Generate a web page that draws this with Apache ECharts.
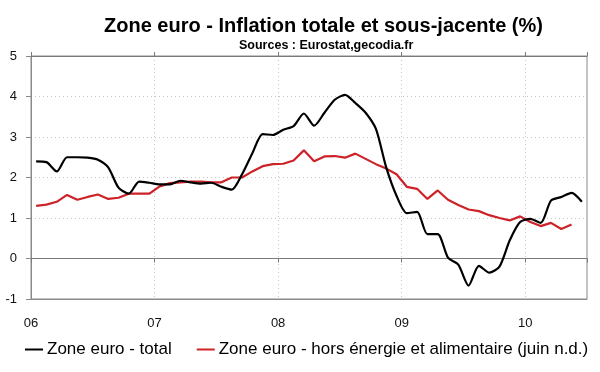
<!DOCTYPE html>
<html>
<head>
<meta charset="utf-8">
<script src="https://cdn.jsdelivr.net/npm/echarts@6/dist/echarts.min.js"></script>
<style>
html,body{margin:0;padding:0;background:#fff;}
#chart{width:600px;height:372px;}
</style>
</head>
<body>
<div id="chart"></div>
<script>
// Monthly data, Jan 2006 – Jun 2010
const yearLabels = ['06', '07', '08', '09', '10'];
const seriesNames = ['Zone euro - total', 'Zone euro - hors énergie et alimentaire (juin n.d.)'];
const total = [
  2.40, 2.38, 2.15, 2.50, 2.50, 2.49, 2.44, 2.25, 1.75, 1.60, 1.90, 1.87,
  1.83, 1.83, 1.92, 1.88, 1.85, 1.87, 1.77, 1.70, 2.08, 2.60, 3.07, 3.05,
  3.18, 3.27, 3.58, 3.28, 3.60, 3.92, 4.04, 3.84, 3.60, 3.20, 2.25, 1.55,
  1.12, 1.15, 0.60, 0.60, 0.02, -0.15, -0.67, -0.18, -0.35, -0.20, 0.45, 0.90,
  0.98, 0.88, 1.43, 1.52, 1.62, 1.40
];
const core = [
  1.30, 1.33, 1.40, 1.57, 1.45, 1.52, 1.58, 1.47, 1.50, 1.60, 1.60, 1.60,
  1.78, 1.86, 1.88, 1.90, 1.90, 1.88, 1.88, 2.00, 2.00, 2.15, 2.28, 2.33,
  2.34, 2.42, 2.67, 2.40, 2.52, 2.53, 2.49, 2.59, 2.46, 2.33, 2.22, 2.08,
  1.77, 1.72, 1.47, 1.68, 1.45, 1.32, 1.21, 1.17, 1.07, 1.00, 0.94, 1.04,
  0.90, 0.80, 0.88, 0.73, 0.84
];

const FONT = '"Liberation Sans", Arial, sans-serif';
// each month sits in the middle of its own category band
const toPts = arr => arr.map((v, i) => [i + 0.5, v]);
const nMonths = total.length;

const chart = echarts.init(document.getElementById('chart'), null, {renderer: 'canvas'});
const zeroAxisBase = {
  type: 'value', min: 0, max: nMonths, interval: 12, gridIndex: 0,
  axisLine: {show: true, onZero: true, lineStyle: {color: '#7a7a7a', width: 1}},
  axisTick: {show: true, length: 4, lineStyle: {color: '#7a7a7a'}},
  axisLabel: {show: false},
  splitLine: {show: false}
};
const dotted = {color: '#c4c4c4', type: [1, 3], width: 1};
chart.setOption({
  animation: false,
  backgroundColor: '#fff',
  title: [
    {text: 'Zone euro - Inflation totale et sous-jacente (%)', left: 99, top: 11,
     textStyle: {fontFamily: FONT, fontSize: 20, fontWeight: 'bold', color: '#000'}},
    {text: 'Sources : Eurostat,gecodia.fr', left: 234, top: 34,
     textStyle: {fontFamily: FONT, fontSize: 12.5, fontWeight: 'bold', color: '#000'}}
  ],
  grid: {left: 31, right: 13, top: 56, bottom: 73, show: true, borderColor: '#8a8a8a', borderWidth: 1, containLabel: false},
  legend: {
    left: 20, top: 336, itemWidth: 18, itemHeight: 2, itemGap: 25, icon: 'rect',
    textStyle: {fontFamily: FONT, fontSize: 17, color: '#000', padding: [0, 0, 0, -1]},
    data: seriesNames
  },
  xAxis: [
    {
      type: 'value', min: 0, max: nMonths, interval: 12, position: 'bottom', gridIndex: 0,
      axisLine: {show: true, onZero: false, lineStyle: {color: '#8a8a8a'}},
      axisTick: {show: false},
      axisLabel: {
        show: true, margin: 18, showMaxLabel: false,
        fontFamily: FONT, fontSize: 13, color: '#111',
        formatter: v => yearLabels[Math.round(v / 12)] || ''
      },
      splitLine: {show: true, lineStyle: dotted}
    },
    Object.assign({position: 'bottom'}, zeroAxisBase),
    Object.assign({position: 'top'}, zeroAxisBase)
  ],
  yAxis: {
    type: 'value', min: -1, max: 5, interval: 1,
    axisLine: {show: true, onZero: false, lineStyle: {color: '#8a8a8a'}},
    axisTick: {show: true, length: 5, lineStyle: {color: '#8a8a8a'}},
    axisLabel: {margin: 14, fontFamily: FONT, fontSize: 13, color: '#111'},
    splitLine: {show: true, lineStyle: dotted}
  },
  series: [
    {
      name: seriesNames[0], type: 'line', xAxisIndex: 0, data: toPts(total),
      smooth: 0.25, showSymbol: false, symbol: 'none',
      lineStyle: {color: '#000', width: 2.2}, itemStyle: {color: '#000'}, z: 3
    },
    {
      name: seriesNames[1], type: 'line', xAxisIndex: 0, data: toPts(core),
      smooth: false, showSymbol: false, symbol: 'none',
      lineStyle: {color: '#cc2228', width: 2.2}, itemStyle: {color: '#cc2228'}, z: 2
    }
  ]
});
</script>
</body>
</html>
